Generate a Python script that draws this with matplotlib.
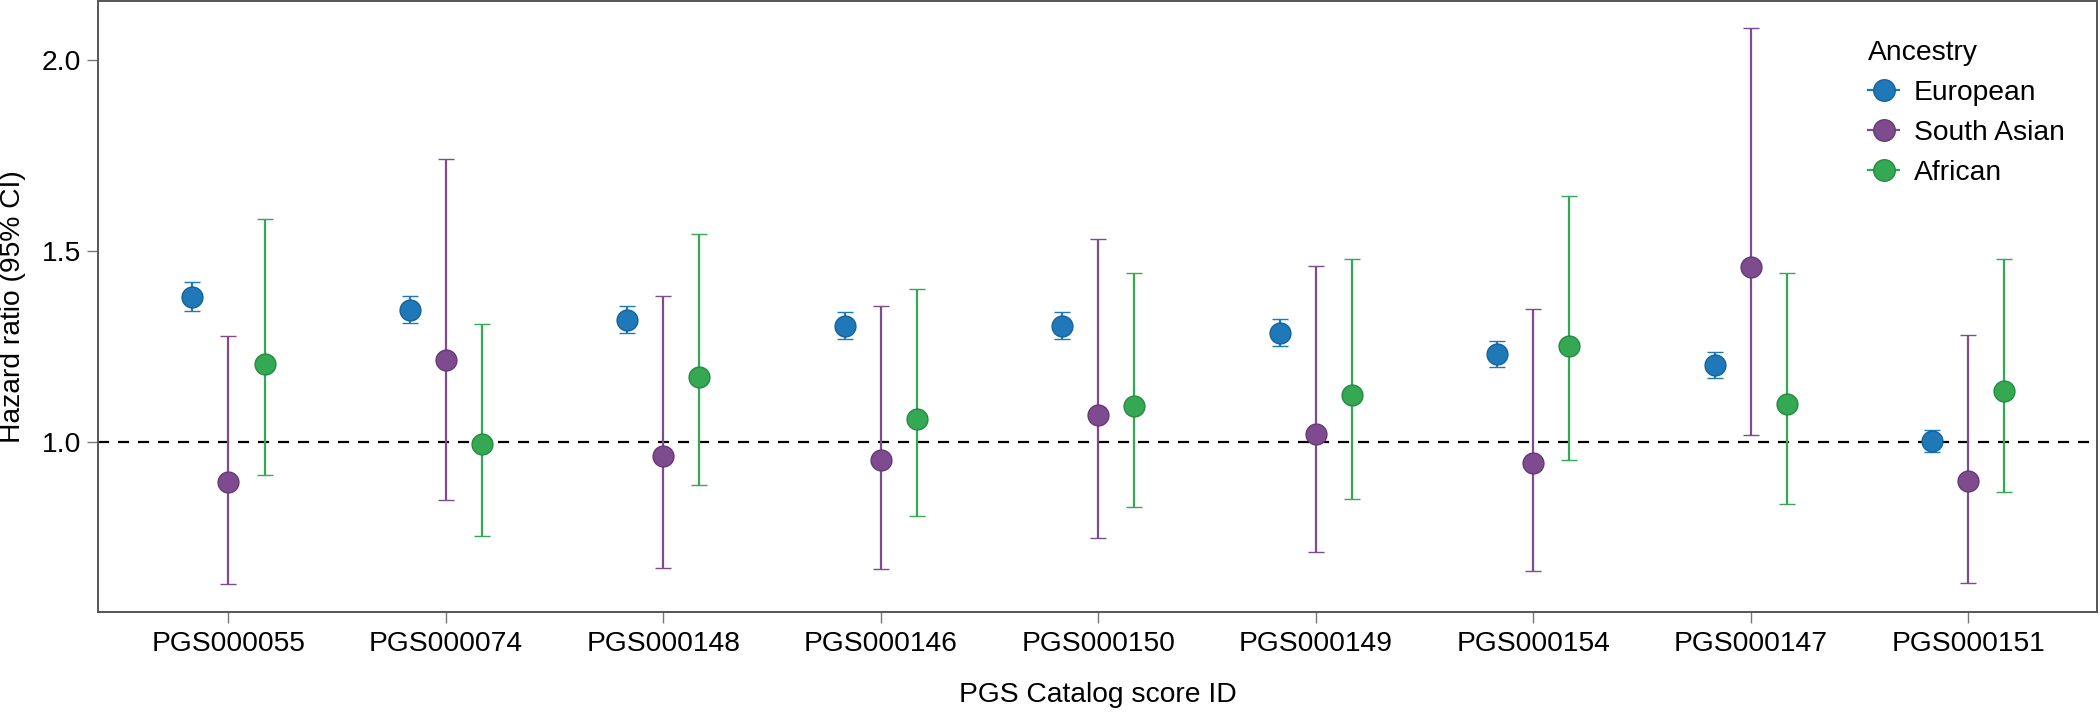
import matplotlib
matplotlib.use("Agg")
import matplotlib.pyplot as plt
from matplotlib.lines import Line2D
import numpy as np

plt.rcParams['font.family'] = ['Liberation Sans', 'DejaVu Sans']

scores = ['PGS000055', 'PGS000074', 'PGS000148', 'PGS000146', 'PGS000150',
          'PGS000149', 'PGS000154', 'PGS000147', 'PGS000151']
ancestries = ['European', 'South Asian', 'African']

# hazard ratio and 95% CI per ancestry, in the order of scores
eur_hr = [1.380, 1.346, 1.320, 1.304, 1.304, 1.286, 1.231, 1.201, 1.002]
eur_lo = [1.342, 1.312, 1.285, 1.269, 1.269, 1.251, 1.196, 1.168, 0.975]
eur_hi = [1.418, 1.382, 1.357, 1.340, 1.340, 1.323, 1.264, 1.236, 1.031]

sas_hr = [0.896, 1.214, 0.963, 0.952, 1.070, 1.020, 0.945, 1.457, 0.899]
sas_lo = [0.628, 0.849, 0.671, 0.668, 0.748, 0.711, 0.663, 1.019, 0.631]
sas_hi = [1.278, 1.740, 1.381, 1.357, 1.532, 1.460, 1.347, 2.083, 1.280]

afr_hr = [1.204, 0.995, 1.170, 1.061, 1.093, 1.122, 1.251, 1.100, 1.133]
afr_lo = [0.913, 0.753, 0.888, 0.805, 0.829, 0.851, 0.954, 0.838, 0.868]
afr_hi = [1.584, 1.309, 1.543, 1.399, 1.443, 1.480, 1.643, 1.443, 1.480]

colors = ['#1f78b8', '#7e4b8f', '#34a853']
edges = ['#17629a', '#653a74', '#268a40']

series = [(eur_hr, eur_lo, eur_hi), (sas_hr, sas_lo, sas_hi), (afr_hr, afr_lo, afr_hi)]

fig = plt.figure(figsize=(21, 7.12), dpi=100)
ax = fig.add_axes([98 / 2100, 1 - 612 / 712, 1999 / 2100, 611 / 712])

ax.axhline(1.0, color='black', linestyle=(0, (5, 4)), linewidth=1.6, zorder=1)

x = np.arange(len(scores))
dodge = 0.166
for i, (hr, lo, hi) in enumerate(series):
    hr = np.array(hr)
    err = [hr - np.array(lo), np.array(hi) - hr]
    ax.errorbar(x + (i - 1) * dodge, hr, yerr=err, fmt='o', color=colors[i],
                ecolor=colors[i], elinewidth=1.6, capsize=5.5, capthick=1.8,
                markersize=15, markeredgecolor=edges[i], markeredgewidth=1,
                zorder=3)

ax.set_xlim(-0.6, 8.593)
ax.set_ylim(0.555, 2.154)
ax.set_xticks(x)
ax.set_xticklabels(scores)
ax.set_yticks([1.0, 1.5, 2.0])
ax.set_yticklabels(['1.0', '1.5', '2.0'])

for s in ax.spines.values():
    s.set_color('#555555')
    s.set_linewidth(1.4)
ax.tick_params(axis='both', which='major', labelsize=20.3, length=8, width=1.0,
               color='#777777', labelcolor='black')
ax.tick_params(axis='x', pad=6)
ax.tick_params(axis='y', pad=4)

ax.set_xlabel('PGS Catalog score ID', fontsize=20.3)
ax.xaxis.set_label_coords(0.5, -0.136)
ax.xaxis.label.set_va('center')
ax.set_ylabel('Hazard ratio (95% CI)', fontsize=20.3)
ax.yaxis.set_label_coords(-0.0425, 0.5)
ax.yaxis.label.set_va('center')

handles = [Line2D([0], [0], color=colors[i], marker='o', markersize=15.5,
                  markeredgecolor=edges[i], linewidth=1.6)
           for i in range(3)]
leg = ax.legend(handles, ancestries, title='Ancestry', loc='upper left',
                bbox_to_anchor=(0.880, 0.955), frameon=False, fontsize=20.3,
                title_fontsize=20.3, handlelength=1.1, handletextpad=0.5,
                labelspacing=0.5, borderaxespad=0)
leg._legend_box.align = 'left'

fig.savefig('out.png', dpi=100)
